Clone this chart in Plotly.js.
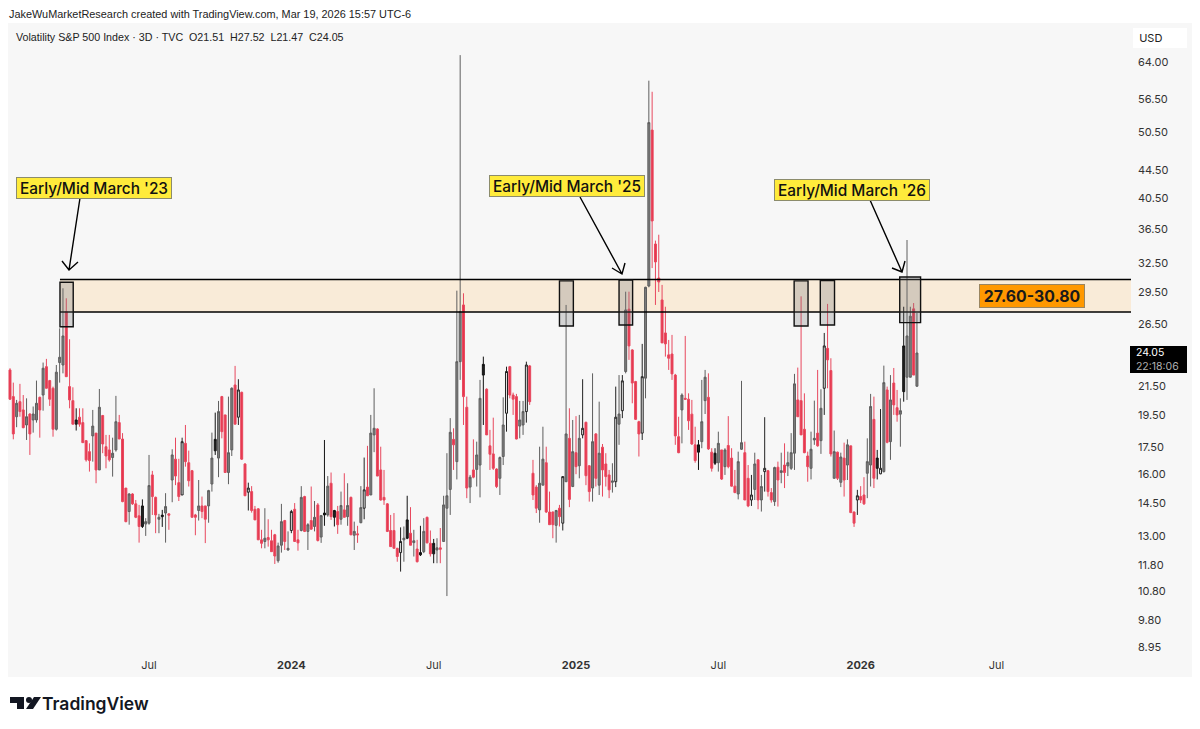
<!DOCTYPE html>
<html>
<head>
<meta charset="utf-8">
<script src="https://cdn.plot.ly/plotly-3.0.1.min.js"></script>
<style>html,body{margin:0;padding:0;background:#fff}#chart{width:1200px;height:729px}</style>
</head>
<body>
<div id="chart"></div>
<script>
// Candle kinds: r = down (red), g = up (grey), k = up (dark), h = up (hollow)
const kinds = "rrgrrgrggr"+"grrrgggrrr"+"krrrrgrgrr"+"rggrrrgrrr"+"kggrrgkgrg"+"rrhrrrrgrr"+"ggkgrrggrh"+
"rrhrrrrgrr"+"rggrghrrgr"+"grgrgkgrkr"+"grgrgrghrg"+"grrrrrrrhg"+"krgrkgrrkg"+"rgggrggrrg"+"rggkrrrrgg"+
"hrrrgghrrr"+"ggrrrgrhgr"+"grghrrgrgr"+"rrghghgrrr"+"rhggrrrrrr"+"rrrgrrrrkg"+"grrkgrgrrr"+"ggrrhgrghr"+
"rgrgrgggrr"+"rrggrghrrg"+"rgrgrrhrrg"+"grkhgrgrrg"+"kggrg";
const highs = [22.85,21.77,20.54,21.68,20.88,20.65,19.64,20.09,21.92,20.77,
23.29,23.58,21.97,21.48,23.1,26.13,29.9,28.91,25.19,21.43,
19.97,19.97,19.97,17.95,17.75,19.86,18.37,21.31,19.53,18.26,
18.26,18.09,20.82,19.53,18.37,15.27,15.01,15.01,14.67,14.43,
14.7,13.8,17.07,16.18,14.84,14.0,14.19,15.01,14.04,17.4,
18.09,16.85,18.09,18.88,17.32,16.23,14.0,15.69,14.84,14.38,
15.18,18.4,19.68,20.47,20.82,19.53,20.77,21.43,23.03,22.02,
21.12,16.6,15.55,15.37,14.38,14.27,13.27,14.27,13.75,13.27,
13.09,12.71,14.48,13.72,13.2,14.19,14.52,13.27,15.37,14.88,
13.57,15.35,14.62,14.52,13.95,17.95,15.9,16.09,14.19,14.38,
15.09,16.05,15.52,14.84,13.64,13.45,15.37,16.92,17.6,19.53,
21.36,18.67,17.55,16.23,14.52,13.95,14.04,12.49,13.38,13.42,
14.88,14.32,13.27,12.83,13.45,13.8,13.87,13.24,12.87,12.9,
13.35,14.88,17.17,19.32,18.67,29.66,65.5,29.4,20.77,15.96,
17.99,17.85,21.97,23.76,21.36,18.57,19.35,16.32,16.98,20.72,
22.97,23.03,21.05,20.96,20.47,20.47,23.36,23.1,16.79,15.42,
17.55,18.77,17.55,15.09,14.11,14.19,14.43,15.9,28.27,19.97,
19.2,19.45,19.53,22.02,19.09,16.5,22.46,18.37,20.42,17.71,
17.17,16.23,16.6,21.48,22.33,22.33,29.56,29.56,24.36,21.9,
19.15,24.8,30.05,60.1,57.9,35.1,35.8,30.24,28.1,25.13,
25.56,22.42,19.41,21,25.47,21,20.54,18.77,17.95,21.97,
22.72,22.46,17.46,17.46,18.46,17.36,17.46,19.45,17.46,16.23,
17.26,21.9,17.85,16.5,15.96,17.2,16.83,15.96,19.38,16.23,
15.27,16.41,16.69,17.2,17.75,17.26,18.37,22.42,22.9,29.1,
21,17.26,18.46,20.49,22.72,21.29,25.73,28.37,23.63,18.53,
17.26,17.2,17.79,17.99,17.6,14.11,15.18,15.37,15.84,18.05,
20.96,20.77,17.36,19.92,23.05,21.48,22.33,22.87,21.24,20.65,
28.1,35.17,28.1,28.45,27.52];
const lows = [20.54,17.99,18.74,19.41,18.67,17.95,17.07,18.4,19.03,18.09,
19.81,21.36,20.13,18.15,18.53,21.77,22.46,22.21,19.97,18.93,
18.53,18.77,17.79,16.69,16.14,16.69,15.52,16.23,17.17,16.32,
16.69,15.87,17.26,18.05,14.56,13.61,13.5,14.43,13.8,12.71,
13.35,13.0,13.5,13.95,13.12,13.12,13.4,12.71,13.27,14.56,
15.42,14.62,14.92,16.41,15.35,13.84,13.03,13.69,13.8,12.69,
13.59,15.09,17.07,15.84,18.05,16.09,15.47,17.01,18.93,18.88,
16.79,14.88,14.16,14.06,13.72,12.83,12.47,12.47,12.54,12.33,
11.83,11.88,12.29,12.4,12.37,13.12,12.76,12.37,13.2,13.17,
12.4,13.27,13.2,12.76,12.7,13.45,13.87,13.72,13.42,13.09,
13.5,13.84,13.45,13.03,12.4,12.7,13.57,13.75,14.88,14.92,
17.23,15.9,14.64,14.43,13.17,12.54,12.47,11.92,11.53,11.92,
12.86,12.6,12.13,11.89,12.15,12.27,12.68,12.13,11.86,11.86,
11.86,12.76,10.62,13.95,16.23,15.72,21.97,18.88,14.76,14.52,
15.78,15.35,14.8,18.88,18.26,16.23,16.23,15.27,14.92,16.5,
18.46,20.65,19.53,17.99,18.05,18.26,19.03,20.2,14.67,14.04,
13.59,15.42,14.04,13.5,12.9,12.71,13.42,13.24,15.6,14.32,
15.32,16.0,15.78,18.05,15.42,14.59,14.59,15.35,14.92,14.84,
15.35,14.76,15.04,15.32,17.66,19.32,22.46,23.5,20.31,19.2,
16.98,17.95,20.65,30.0,32.0,28.27,29.53,24.88,23.76,22.72,
21.97,17.66,17.17,17.75,20.54,18.57,17.66,16.63,16.23,17.46,
19.59,17.36,16.14,16.5,16.14,15.69,15.96,16.32,15.35,15.01,
14.7,17.36,14.67,14.32,14.38,14.67,14.22,14.11,15.09,14.84,
14.54,14.38,14.35,15.52,15.27,15.9,16.23,16.23,19.41,18.26,
17.17,15.6,15.72,17.66,17.55,17.13,19.53,21.36,16.98,15.78,
15.69,15.32,14.84,15.69,14.04,13.4,13.95,14.52,14.43,14.76,
15.35,15.27,15.72,16.0,16.09,17.75,16.79,19.53,19.09,17.55,
20.42,20.54,22.21,22.33,21.47];
const bodyTops = [22.72,20.77,20.31,20.42,19.86,19.41,19.59,19.59,20.31,20.72,
22.85,22.97,21.92,21.36,22.55,23.71,25.47,27.64,21.48,20.49,
19.2,19.38,19.03,17.91,17.26,18.81,18.37,20.04,19.49,17.55,
17.36,17.17,19.09,19.03,18.01,15.27,14.97,14.97,14.48,13.91,
14.38,13.64,15.4,15.96,14.8,13.84,13.94,14.35,14.0,17.07,
16.83,15.55,17.85,17.75,16.63,16.19,13.95,14.38,14.38,14.38,
15.14,16.89,17.99,19.75,20.77,19.53,17.2,21.36,21.6,21.24,
21.07,16.56,15.27,15.09,14.22,14.24,12.83,12.9,12.93,12.79,
13.05,12.57,13.64,13.69,12.47,14.11,14.22,12.83,14.8,14.84,
13.5,13.69,13.84,14.43,13.92,14.04,15.37,15.52,14.16,14.11,
14.4,14.19,14.4,14.8,13.2,13.09,14.3,15.18,15.32,18.37,
18.67,18.63,16.23,14.8,14.48,13.24,13.24,12.47,12.76,12.9,
13.72,13.12,12.79,12.44,12.29,13.2,13.84,12.68,12.68,12.49,
12.49,14.43,14.88,18.42,17.99,23.36,27.64,28.27,20.04,15.84,
16.23,17.07,20.65,23.15,21.29,17.6,17.13,16.28,16.92,18.88,
22.6,22.97,20.88,20.77,19.2,19.75,23.1,23.03,16.05,15.32,
15.52,16.83,16.63,14.09,14.09,14.16,14.27,15.87,18.32,18.05,
17.26,17.2,18.05,18.67,19.05,16.46,17.85,18.32,17.17,17.52,
16.56,15.96,15.64,19.38,19.59,21.9,27.8,27.87,24.3,21.85,
19.09,22.21,30.0,52.2,50.9,34.7,30.95,28.75,25.73,23.9,
23.97,22.33,18.15,20.88,20.65,20.59,19.58,17.66,17.66,19.09,
22.17,20.72,17.23,17.17,17.75,17.36,17.36,17.62,16.89,15.37,
16.69,17.79,17.2,15.78,14.92,16.56,16.79,15.35,16.32,16.19,
15.04,16.36,16.38,16.19,16.5,16.63,17.2,21.68,20.54,20.49,
18.61,17.01,17.4,18.05,18.37,19.97,24.63,24.43,22.67,17.26,
17.23,16.95,16.89,17.66,17.6,14.09,14.88,14.84,14.92,16.69,
20.09,19.24,16.89,16.32,21.77,21.24,20.54,21.74,20.01,19.81,
24.63,25.47,27.22,27.9,24.05];
const bodyBottoms = [20.59,18.32,19.41,19.75,18.71,18.88,18.32,19.2,19.2,19.86,
20.88,21.36,20.59,18.61,18.61,23.29,23.1,22.21,20.54,18.93,
18.93,18.93,17.79,16.79,16.75,18.2,16.23,16.23,17.71,17.01,
16.79,16.92,17.36,18.01,14.59,13.64,14.11,14.48,13.84,13.42,
13.42,13.53,13.57,14.84,13.95,13.75,13.87,14.04,13.94,15.69,
15.9,14.84,14.92,16.69,15.65,13.84,13.84,14.16,14.11,13.75,
14.38,15.48,17.31,16.89,18.46,16.09,16.09,17.36,18.93,19.38,
16.83,14.88,15.06,14.16,13.72,12.83,12.68,12.76,12.83,12.33,
12.15,11.96,12.6,12.76,12.4,13.24,12.76,12.7,13.24,13.2,
13.2,13.3,13.42,12.8,12.95,13.95,13.95,13.87,13.84,13.5,
13.75,13.84,13.87,13.05,13.03,13.05,13.59,14.27,14.88,14.92,
18.26,15.9,14.67,14.67,13.2,12.54,12.47,12.13,12.29,12.83,
12.9,12.6,12.71,11.92,12.2,12.33,12.7,12.24,12.24,12.4,
12.43,12.76,14.27,15.2,17.66,16.69,23.36,20.77,15.27,15.32,
15.84,16.26,16.5,22.33,18.26,17.11,16.32,15.35,15.78,16.98,
19.64,20.88,20.59,18.01,18.81,18.88,19.75,20.42,14.92,14.27,
14.19,15.42,14.09,13.5,13.5,13.47,13.87,13.57,15.6,14.7,
15.35,16.41,16.46,18.26,15.92,15.09,15.27,15.78,15.42,16.23,
15.87,15.18,15.57,15.6,18.93,19.81,22.6,24.63,21.74,19.24,
18.32,18.37,22.1,30.13,37.5,32.67,30.54,24.88,24.8,23.63,
22.42,18.2,17.2,19.86,20.59,19.15,17.71,16.75,17.23,17.85,
20.49,17.42,16.32,16.6,16.63,15.74,16.41,16.41,15.37,15.04,
14.97,17.4,14.67,14.38,14.67,15.2,14.67,14.67,16.14,15.09,
14.67,14.59,15.69,16.09,16.09,16.45,16.32,17.17,19.41,18.26,
17.2,16.41,16.32,17.95,17.6,17.91,21.36,23.5,17.13,15.78,
15.78,15.57,15.69,16.5,14.06,13.57,14.67,14.67,14.48,16.05,
16.5,15.78,16.32,16.02,16.14,17.81,17.85,20.2,19.53,19.58,
21.12,22.17,22.17,22.33,21.51];

const xTickIndex = [42,85,128,171,214,257,298];
const xTickText = ["Jul","<b>2024</b>","Jul","<b>2025</b>","Jul","<b>2026</b>","Jul"];
const yTickValues = [64,56.5,50.5,44.5,40.5,36.5,32.5,29.5,26.5,21.5,19.5,17.5,16,14.5,13,11.8,10.8,9.8,8.95];
const yTickText = ["64.00","56.50","50.50","44.50","40.50","36.50","32.50","29.50","26.50","21.50","19.50","17.50","16.00","14.50","13.00","11.80","10.80","9.80","8.95"];
const zoneLow = 27.6, zoneHigh = 30.8;

const W=1200,H=729,L=8,R=1131,T=23,B=655;
const fx=p=>(p-L)/(R-L), fy=p=>(B-p)/(B-T);
const FONT='Inter, "Liberation Sans", sans-serif';
const SANS='"Liberation Sans", Arial, sans-serif';

const styles={
  g:{line:'#5e5e5e',fill:'#7c7c7c'},
  k:{line:'#111111',fill:'#222222'},
  h:{line:'#222222',fill:'#e8e8e8'},
  r:{line:'#e8485e',fill:'#e6364d'}
};
const traces=['r','g','k','h'].map(kind=>{
  const idx=[];for(let i=0;i<highs.length;i++)if(kinds[i]===kind)idx.push(i);
  const up=kind!=='r', s=styles[kind];
  const side={line:{color:s.line,width:1},fillcolor:s.fill};
  return {type:'candlestick',x:idx,
    open:idx.map(i=>up?bodyBottoms[i]:bodyTops[i]),
    close:idx.map(i=>up?bodyTops[i]:bodyBottoms[i]),
    high:idx.map(i=>highs[i]),low:idx.map(i=>lows[i]),
    increasing:side,decreasing:side,whiskerwidth:0,showlegend:false,hoverinfo:'skip'};
});

const boxes=[[15.1,19.1,26.27,30.51],[166,170.2,26.34,30.65],[184,188.1,26.43,30.75],
             [236.9,241.1,26.34,30.65],[244.8,249.1,26.43,30.7],[268.8,275.1,26.64,31.05]];
const shapes=[
  {type:'rect',xref:'paper',yref:'paper',x0:fx(8),x1:fx(1192),y0:fy(677),y1:fy(23),fillcolor:'#f7f7f7',line:{width:0},layer:'below'},
  {type:'rect',xref:'x',yref:'y',x0:15.1,x1:338.67,y0:zoneLow,y1:zoneHigh,fillcolor:'#f9ebd8',line:{width:0},layer:'below'},
  {type:'line',xref:'x',yref:'y',x0:15.1,x1:338.67,y0:zoneLow,y1:zoneLow,line:{color:'#000',width:1.6},layer:'above'},
  {type:'line',xref:'x',yref:'y',x0:15.1,x1:338.67,y0:zoneHigh,y1:zoneHigh,line:{color:'#000',width:1.6},layer:'above'}
];
boxes.forEach(b=>shapes.push({type:'rect',xref:'x',yref:'y',x0:b[0],x1:b[1],y0:b[2],y1:b[3],
  fillcolor:'rgba(120,120,120,0.28)',line:{color:'#111',width:1.4},layer:'above'}));
const arrow=(x0,y0,x1,y1,a,b,c,d)=>({type:'path',xref:'paper',yref:'paper',
  path:`M ${fx(x0)} ${fy(y0)} L ${fx(x1)} ${fy(y1)} M ${fx(a)} ${fy(b)} L ${fx(x1)} ${fy(y1)} L ${fx(c)} ${fy(d)}`,
  line:{color:'#000',width:1.4},layer:'above'});
shapes.push(arrow(80,198,69,270,62,261,78,262));
shapes.push(arrow(580,197,622,274,612,268,625,263));
shapes.push(arrow(870,200,902,272,892,268,905,261));
// TradingView logo mark
const poly=(pts)=>({type:'path',xref:'paper',yref:'paper',
  path:'M '+pts.map(p=>fx(p[0])+' '+fy(p[1])).join(' L ')+' Z',fillcolor:'#131722',line:{width:0}});
shapes.push(poly([[10,697],[24,697],[24,709],[17,709],[17,703],[10,703]]));
shapes.push({type:'circle',xref:'paper',yref:'paper',x0:fx(26),x1:fx(32),y0:fy(703),y1:fy(697),fillcolor:'#131722',line:{width:0}});
shapes.push(poly([[34,697],[41,697],[33,709],[26,709]]));

const txt=(text,x,y,size,color,extra)=>Object.assign({xref:'paper',yref:'paper',x:fx(x),y:fy(y),text,showarrow:false,
  xanchor:'left',yanchor:'middle',font:{family:SANS,size,color}},extra||{});
const callout=(text,x,y)=>({xref:'paper',yref:'paper',x:fx(x),y:fy(y),text,showarrow:false,xanchor:'left',yanchor:'top',
  width:154,height:20,borderpad:0,borderwidth:1,bordercolor:'#8c8c6c',bgcolor:'#ffeb3b',align:'center',valign:'middle',
  font:{family:FONT,size:15.4,color:'#111',weight:500}});
const annotations=[
  txt('JakeWuMarketResearch created with TradingView.com, Mar 19, 2026 15:57 UTC-6',7,13.5,10.9,'#222'),
  txt('Volatility S&amp;P 500 Index · 3D · TVC&nbsp; O21.51&nbsp; H27.52&nbsp; L21.47&nbsp; C24.05',14,37,10.7,'#222'),
  callout("Early/Mid March '23",16,177),
  callout("Early/Mid March '25",489,175),
  callout("Early/Mid March '26",774,179),
  {xref:'paper',yref:'paper',x:fx(979),y:fy(284),text:'27.60-30.80',showarrow:false,xanchor:'left',yanchor:'top',
   width:104,height:22,borderpad:0,borderwidth:1,bordercolor:'#9a8560',bgcolor:'#ff9800',align:'center',valign:'middle',
   font:{family:FONT,size:15.8,color:'#1a1a1a',weight:700}},
  {xref:'paper',yref:'paper',x:fx(1133),y:fy(28),text:'&nbsp;&nbsp;USD',showarrow:false,xanchor:'left',yanchor:'top',
   width:54,height:20,borderpad:0,borderwidth:0,bgcolor:'#fff',align:'left',valign:'middle',
   font:{family:FONT,size:11,color:'#222'}},
  {xref:'paper',yref:'paper',x:fx(1130),y:fy(346),text:'&nbsp;&nbsp;24.05<br>&nbsp;&nbsp;<span style="color:#b0b0b0">22:18:06</span>',showarrow:false,xanchor:'left',yanchor:'top',
   width:57,height:27,borderpad:0,borderwidth:0,bgcolor:'#000',align:'left',valign:'middle',
   font:{family:FONT,size:10.5,color:'#fff'}},
  txt('TradingView',40,703.5,17.5,'#131722',{font:{family:FONT,size:17.5,color:'#131722',weight:600}})
];

const layout={
  width:W,height:H,margin:{l:L,r:W-R,t:T,b:H-B,pad:0},autosize:false,
  paper_bgcolor:'#ffffff',plot_bgcolor:'#f7f7f7',showlegend:false,dragmode:false,hovermode:false,
  boxgap:0.15,
  xaxis:{type:'linear',range:[-0.604,338.67],tickmode:'array',tickvals:xTickIndex,ticktext:xTickText,
    showgrid:false,zeroline:false,showline:false,ticks:'',rangeslider:{visible:false},ticklabelstandoff:2,
    tickfont:{family:FONT,size:11,color:'#333'},fixedrange:true},
  yaxis:{type:'log',side:'right',range:[Math.log10(8.71),Math.log10(72.97)],tickmode:'array',tickvals:yTickValues,ticktext:yTickText,
    showgrid:false,zeroline:false,showline:false,ticks:'',ticklabelstandoff:6,
    tickfont:{family:FONT,size:11,color:'#333'},fixedrange:true},
  shapes,annotations
};
Plotly.newPlot('chart',traces,layout,{displayModeBar:false,staticPlot:true});
</script>
</body>
</html>
